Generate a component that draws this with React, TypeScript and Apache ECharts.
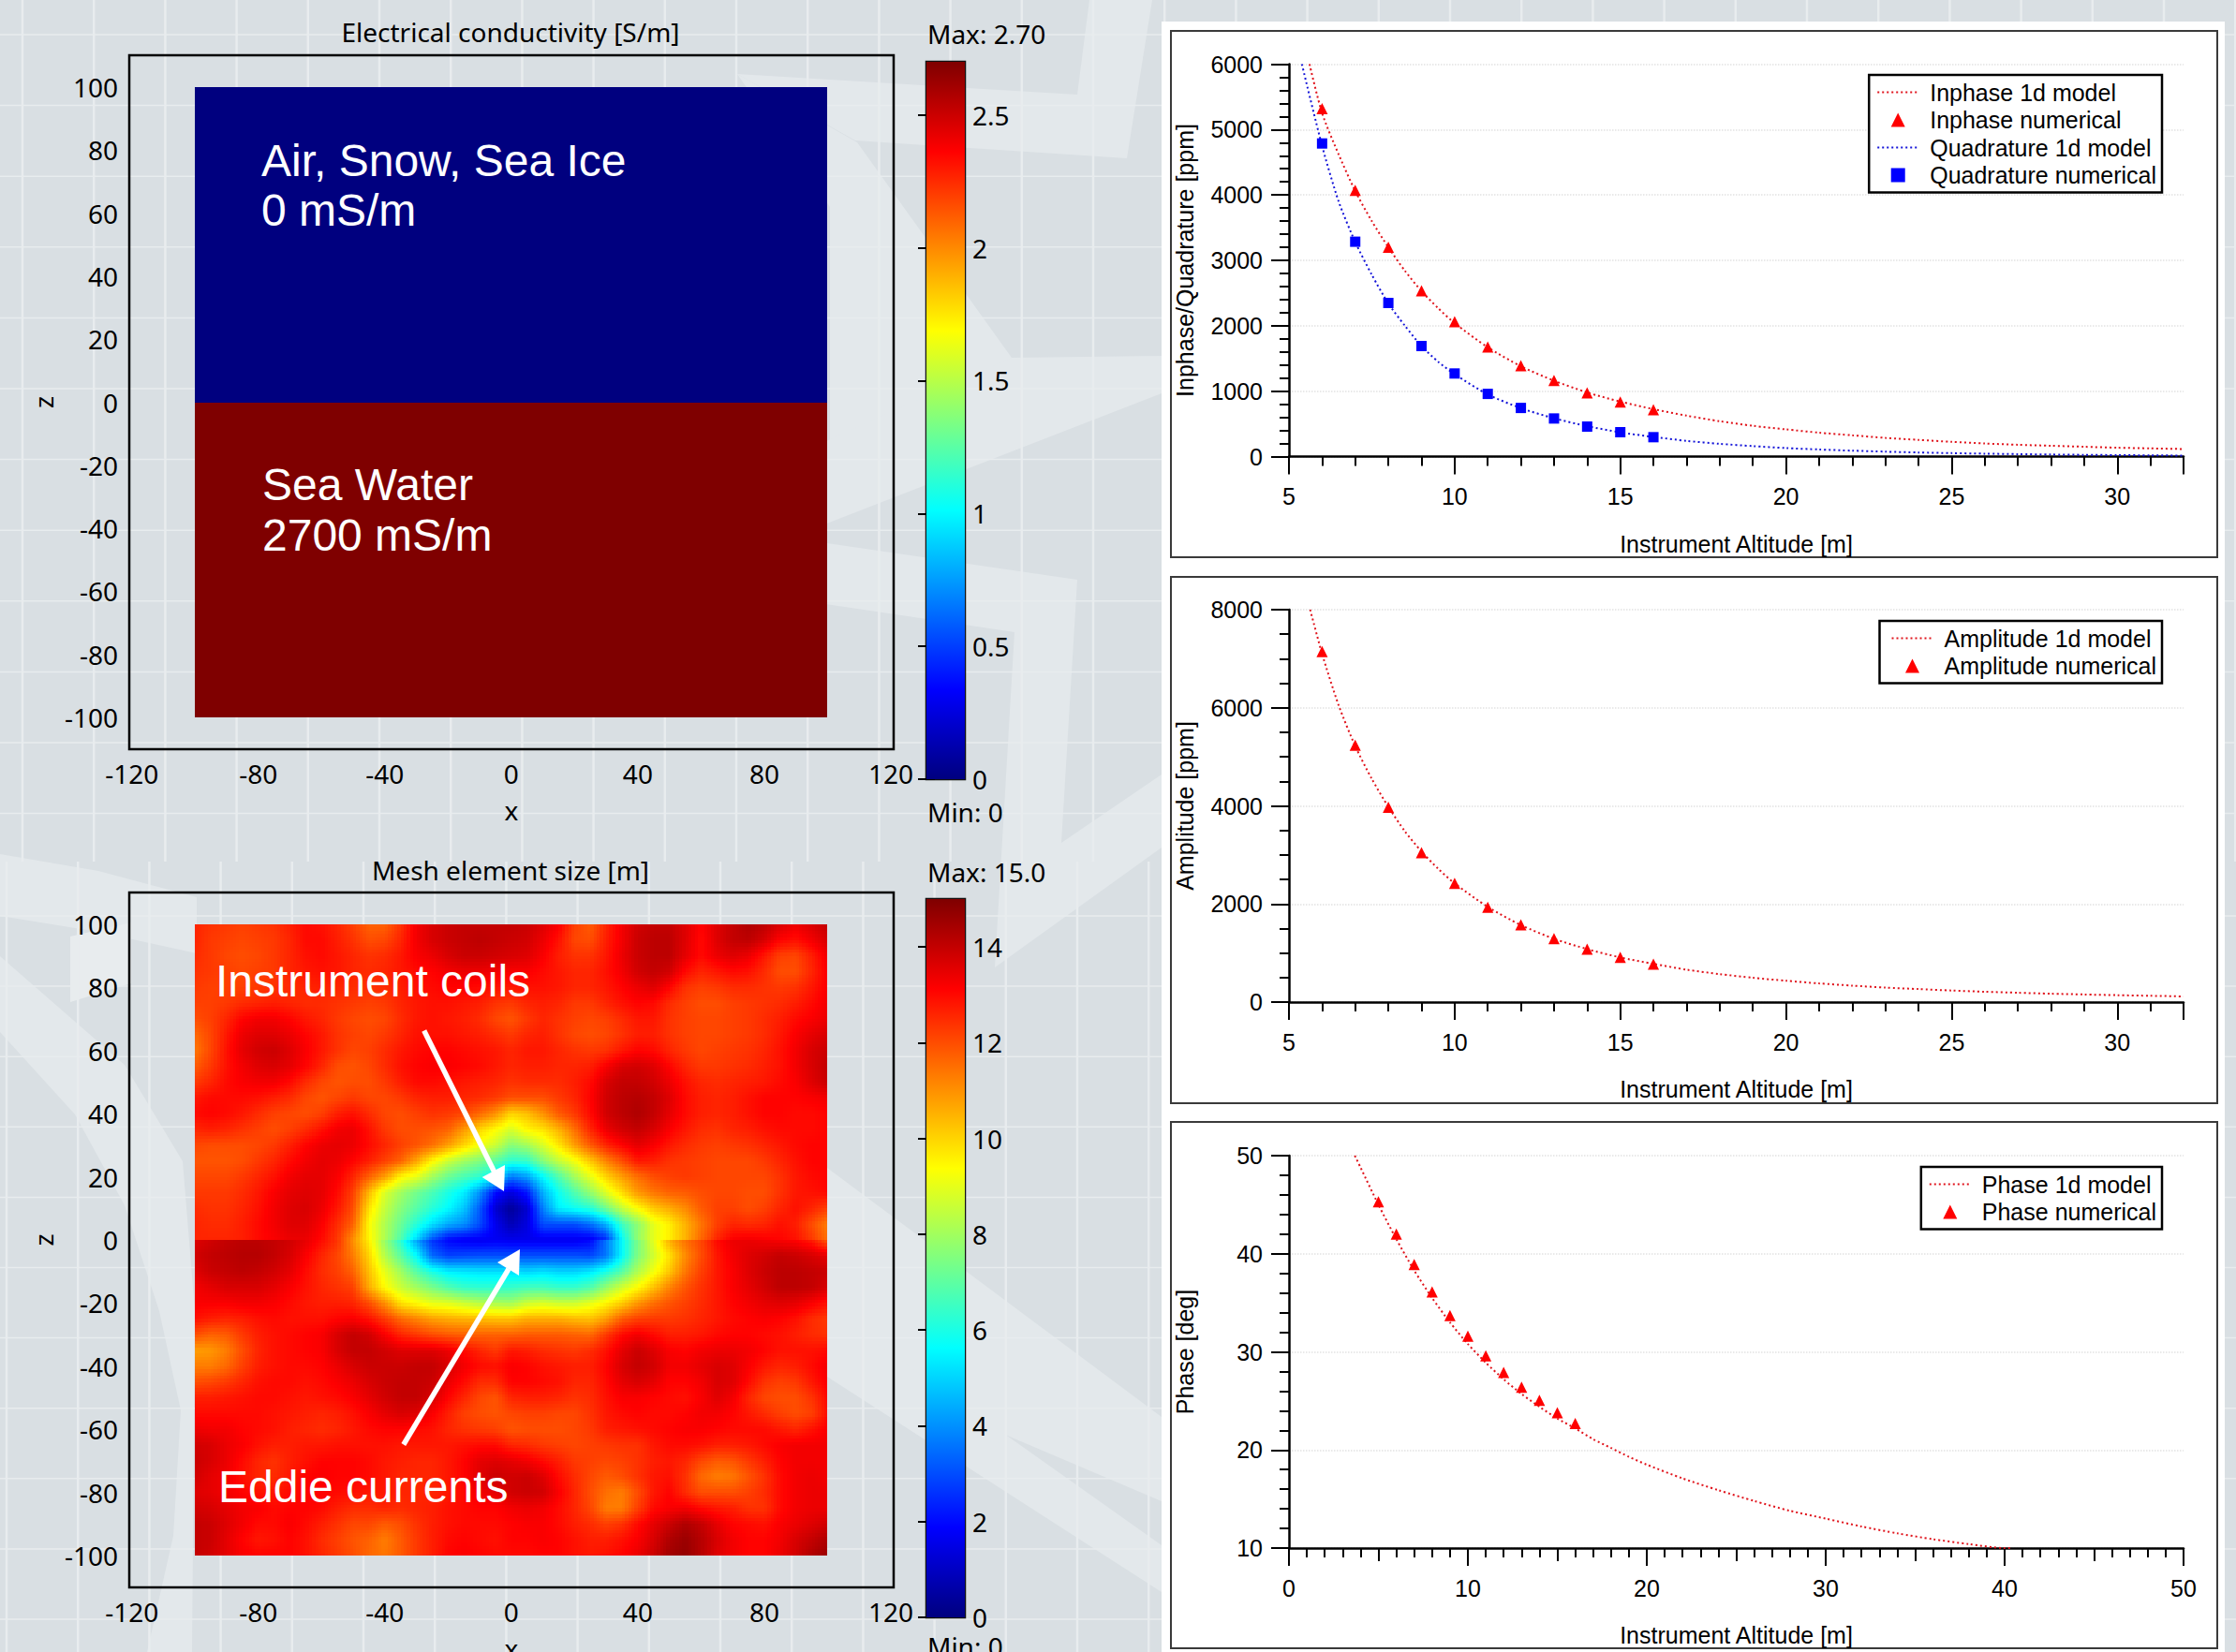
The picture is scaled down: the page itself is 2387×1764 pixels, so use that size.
import React, { useEffect, useRef } from "react";
import * as echarts from "echarts";

const WIDTH = 2387;
const HEIGHT = 1764;

// ---- jet colour scale ----
const jetPositions = [0, 0.125, 0.375, 0.625, 0.875, 1];
const jetColours = [[0, 0, 127], [0, 0, 255], [0, 255, 255], [255, 255, 0], [255, 0, 0], [127, 0, 0]];

// ---- conductivity panel ----
const conductivityMax = 2.7;
const conductivityX = [-100, 100];
const conductivityZ = [100, 0, -100];
const conductivityValues = [0, 2.7];
const conductivityBarTicks = [0, 0.5, 1, 1.5, 2, 2.5];

// ---- mesh panel ----
const meshMax = 15;
const meshBarTicks = [0, 2, 4, 6, 8, 10, 12, 14];
const meshStep = 5;
const meshXStart = -100;
// rows z = 100 ... 0, columns x = -100 ... 100 (every 5 m)
const meshUpper = [
  [12.6,12.4,12.3,12.2,12.3,12.4,12.7,13.0,12.9,12.6,12.2,11.7,11.7,12.4,13.3,13.7,13.9,14.0,14.0,14.0,14.0,13.9,13.6,13.2,12.2,11.8,12.6,13.3,13.8,14.0,14.0,13.6,13.1,13.6,14.0,14.3,14.1,13.7,13.4,13.7,14.0],
  [12.6,12.3,12.2,12.1,12.2,12.3,12.6,13.0,13.0,12.7,12.4,12.0,12.1,12.6,13.3,13.7,13.9,14.0,14.1,14.0,13.9,13.8,13.4,12.9,12.1,12.0,12.7,13.3,13.9,14.1,14.1,13.6,13.0,13.6,14.0,14.1,13.7,13.1,12.9,13.3,13.7],
  [12.5,12.3,12.1,12.0,12.1,12.3,12.6,12.9,13.0,12.8,12.6,12.4,12.5,12.8,13.2,13.4,13.7,13.9,13.9,13.8,13.7,13.6,13.2,12.7,12.4,12.4,12.8,13.4,13.9,14.1,14.1,13.5,13.0,13.4,13.6,13.4,12.8,12.2,12.1,12.7,13.3],
  [12.4,12.3,12.2,12.1,12.2,12.3,12.6,12.8,12.9,12.8,12.6,12.5,12.6,12.8,13.0,13.1,13.3,13.4,13.4,13.3,13.2,13.2,13.0,12.8,12.6,12.6,12.9,13.3,13.8,14.0,13.8,13.0,12.6,12.8,13.0,12.9,12.5,12.0,12.0,12.6,13.2],
  [12.3,12.2,12.2,12.2,12.3,12.4,12.5,12.6,12.7,12.6,12.5,12.4,12.5,12.7,12.9,13.0,13.1,13.1,13.0,12.9,12.8,12.9,12.9,12.8,12.6,12.6,12.8,13.1,13.4,13.6,13.1,12.4,12.2,12.3,12.5,12.5,12.4,12.3,12.4,12.8,13.2],
  [12.2,12.2,12.3,12.5,12.6,12.7,12.6,12.5,12.5,12.4,12.3,12.2,12.3,12.6,12.8,12.9,12.9,12.8,12.7,12.4,12.3,12.6,12.7,12.6,12.3,12.3,12.6,12.9,13.1,13.0,12.5,12.2,12.0,12.0,12.2,12.3,12.4,12.5,12.7,13.0,13.3],
  [12.0,12.2,12.6,13.1,13.3,13.3,13.1,12.8,12.6,12.3,12.1,12.0,12.1,12.5,12.8,12.9,12.8,12.7,12.5,12.1,11.9,12.3,12.6,12.4,12.2,12.1,12.2,12.5,12.8,12.8,12.4,12.2,12.1,12.1,12.2,12.3,12.5,12.7,13.0,13.2,13.4],
  [11.6,12.1,12.8,13.4,13.6,13.6,13.4,13.1,12.8,12.4,12.2,12.1,12.3,12.6,12.9,12.9,12.9,12.8,12.7,12.5,12.3,12.6,12.7,12.4,12.1,12.0,12.1,12.4,12.7,12.7,12.4,12.2,12.1,12.1,12.2,12.3,12.5,12.8,13.2,13.5,13.7],
  [11.4,12.1,12.9,13.5,13.8,13.9,13.6,13.2,12.8,12.4,12.1,12.2,12.5,12.8,13.0,13.1,13.1,13.0,12.9,12.8,12.6,12.8,12.8,12.6,12.4,12.3,12.4,12.8,13.1,13.0,12.6,12.3,12.1,12.2,12.3,12.4,12.6,12.9,13.3,13.7,13.9],
  [11.8,12.3,12.9,13.3,13.6,13.7,13.5,13.1,12.6,12.0,11.9,12.1,12.5,12.9,13.1,13.2,13.2,13.1,13.0,12.8,12.6,12.7,12.7,12.6,12.6,12.7,13.2,13.7,13.8,13.6,13.1,12.6,12.3,12.3,12.4,12.5,12.7,12.9,13.3,13.7,14.0],
  [12.3,12.6,13.0,13.2,13.3,13.3,13.0,12.5,12.1,11.9,12.0,12.0,12.3,12.7,13.0,13.0,12.9,12.8,12.7,12.6,12.4,12.5,12.5,12.5,12.7,13.0,13.7,14.0,14.0,13.8,13.4,12.9,12.6,12.5,12.6,12.7,12.8,13.0,13.2,13.6,13.9],
  [12.8,13.0,13.0,13.0,12.9,12.7,12.5,12.1,11.9,12.1,12.3,12.1,12.1,12.3,12.6,12.7,12.7,12.6,12.5,12.3,12.0,12.0,12.0,12.3,12.6,13.1,13.8,14.1,14.2,14.0,13.6,13.0,12.7,12.6,12.7,12.9,13.1,13.1,13.1,13.2,13.3],
  [13.0,13.1,13.0,12.8,12.5,12.2,12.1,12.0,12.2,12.7,12.9,12.5,12.1,12.0,12.2,12.4,12.3,12.1,11.6,11.0,10.0,10.3,11.0,11.8,12.3,13.0,13.8,14.1,14.3,14.0,13.5,13.0,12.7,12.6,12.7,12.9,13.1,13.1,13.0,13.0,13.1],
  [12.6,12.7,12.6,12.4,12.2,12.0,12.2,12.5,12.9,13.3,13.4,12.9,12.3,12.0,12.0,11.9,11.7,10.9,10.0,9.4,8.8,9.5,9.8,10.5,11.5,12.6,13.4,13.8,14.0,13.7,13.2,12.8,12.5,12.4,12.6,12.7,12.9,13.0,13.0,13.0,13.1],
  [12.1,12.0,12.0,12.0,12.1,12.3,12.7,13.1,13.4,13.5,13.4,13.0,12.6,12.2,11.9,11.5,10.8,10.0,9.2,8.6,7.6,8.0,8.8,9.7,10.8,11.8,12.6,13.1,13.5,13.2,12.8,12.5,12.3,12.2,12.3,12.4,12.6,12.8,13.0,13.1,13.1],
  [11.9,11.9,11.9,12.0,12.3,12.6,13.0,13.3,13.5,13.4,13.1,12.7,12.2,11.7,10.7,9.5,8.6,8.0,7.5,7.0,6.3,6.4,7.6,8.5,9.2,10.2,11.2,12.0,12.8,12.7,12.4,12.3,12.2,12.1,12.1,12.1,12.3,12.6,12.9,13.1,13.1],
  [12.1,12.1,12.1,12.3,12.6,12.9,13.3,13.5,13.5,13.2,12.6,11.7,10.8,9.5,9.0,8.0,7.2,6.7,6.3,5.5,3.6,4.2,5.6,6.8,8.0,9.0,10.0,10.8,11.5,12.0,12.2,12.3,12.2,12.1,12.1,12.1,12.1,12.4,12.8,13.0,13.1],
  [12.3,12.3,12.3,12.5,12.8,13.2,13.5,13.6,13.5,13.0,12.2,10.4,8.8,8.0,7.3,6.7,6.0,5.4,4.0,2.0,1.4,2.2,4.5,5.8,6.8,7.8,8.9,9.9,10.9,11.4,11.7,11.8,12.0,12.1,12.1,12.0,12.0,12.4,12.8,12.9,13.0],
  [12.5,12.4,12.4,12.6,12.9,13.3,13.6,13.7,13.4,12.8,12.0,9.8,8.5,7.6,6.9,6.2,5.6,4.8,3.2,1.2,0.4,1.2,3.8,5.4,5.8,6.2,7.3,8.5,9.4,10.2,10.6,11.1,11.8,12.2,12.2,12.0,12.2,12.6,12.9,12.6,12.2],
  [12.6,12.5,12.5,12.7,13.0,13.3,13.6,13.6,13.2,12.5,11.7,9.4,8.2,7.2,6.2,5.2,4.4,4.0,3.0,1.6,0.8,1.4,3.0,3.0,3.0,3.5,4.5,6.5,7.7,9.0,9.6,10.5,11.4,12.2,12.6,12.5,12.6,12.9,12.7,12.0,11.3],
  [12.6,12.6,12.6,12.7,13.0,13.2,13.4,13.4,13.0,12.3,11.0,9.5,8.2,6.8,5.0,3.0,1.9,1.7,1.7,1.7,1.6,1.6,1.6,1.6,1.6,1.6,2.4,5.6,7.8,9.0,9.6,10.5,11.6,12.6,13.2,13.3,13.2,13.1,12.9,12.3,11.5],
];
// rows z = 0 ... -100, columns x = -100 ... 100 (every 5 m)
const meshLower = [
  [13.6,13.8,14.0,14.1,14.1,14.0,13.8,13.5,13.0,12.4,11.0,9.6,7.8,6.2,4.2,2.6,1.9,1.7,1.6,1.7,1.6,1.6,1.6,1.6,1.6,1.9,3.6,5.6,7.4,9.0,10.6,11.5,12.1,13.0,13.4,13.4,13.3,13.2,13.1,12.7,11.8],
  [13.8,14.0,14.1,14.2,14.2,14.0,13.7,13.2,12.6,12.1,11.3,10.0,8.3,7.0,5.6,3.4,2.8,2.9,3.0,3.0,3.0,3.0,3.0,3.0,3.0,2.9,3.6,5.6,7.5,8.7,9.8,11.1,12.0,12.8,13.3,13.6,13.8,14.0,13.9,13.7,13.5],
  [13.6,13.9,14.0,14.1,14.0,13.8,13.5,13.0,12.5,12.2,11.7,10.3,9.0,8.0,6.9,6.0,5.4,5.3,5.2,5.2,5.2,5.0,5.2,5.0,5.0,5.3,6.0,6.9,8.2,9.2,10.2,11.4,12.2,12.8,13.2,13.6,13.9,14.1,14.1,14.0,13.9],
  [13.3,13.5,13.7,13.7,13.7,13.5,13.2,12.9,12.6,12.4,12.2,10.6,9.4,8.6,8.0,7.4,6.8,6.4,6.3,6.3,6.4,6.6,6.6,6.4,6.4,6.8,7.8,8.7,9.4,10.3,11.2,11.9,12.4,12.8,13.2,13.5,13.8,14.1,14.1,14.0,13.7],
  [13.2,13.2,13.2,13.3,13.3,13.2,13.0,12.8,12.7,12.7,12.6,12.0,11.0,9.8,9.4,9.0,8.9,8.6,8.3,8.1,8.0,8.6,8.8,8.6,8.6,9.0,9.5,10.1,10.9,11.5,11.9,12.2,12.5,12.8,13.1,13.3,13.5,13.6,13.5,13.2,12.9],
  [12.9,12.7,12.6,12.7,12.9,13.0,12.9,12.9,12.9,13.1,13.2,12.9,12.3,11.6,11.2,10.8,10.6,10.5,10.4,10.3,10.3,10.6,10.6,10.6,10.4,10.3,10.8,11.8,12.2,12.3,12.3,12.4,12.6,12.8,13.0,13.1,13.2,13.1,12.9,12.5,12.3],
  [12.0,11.7,11.8,12.3,12.7,12.9,13.0,13.1,13.2,13.7,14.0,13.8,13.2,12.6,12.3,12.0,11.8,11.7,11.7,11.7,11.7,11.8,11.8,11.8,11.7,11.6,12.3,13.0,13.3,13.0,12.7,12.7,12.8,13.0,13.1,13.1,13.0,12.9,12.7,12.5,12.4],
  [10.8,10.9,11.3,12.0,12.6,12.9,13.0,13.1,13.2,13.7,14.0,14.0,13.8,13.6,13.6,13.6,13.4,13.0,12.6,12.3,12.8,12.7,12.5,12.4,12.3,12.5,12.9,13.5,13.9,13.6,13.2,13.1,13.3,13.4,13.4,13.3,13.1,12.9,12.9,12.9,13.0],
  [11.3,11.3,11.6,12.2,12.7,12.9,13.0,13.0,13.1,13.4,13.7,13.9,13.9,13.9,14.0,14.0,13.7,13.3,13.0,12.9,13.2,13.1,12.9,12.8,12.7,12.7,13.1,13.7,14.0,13.8,13.3,13.3,13.5,13.7,13.6,13.2,12.8,12.6,12.7,13.0,13.3],
  [12.0,12.1,12.3,12.6,12.9,13.0,13.0,12.9,13.0,13.2,13.4,13.7,13.9,14.0,14.0,13.9,13.4,13.0,12.5,12.5,13.1,13.1,13.0,12.9,12.6,12.6,13.0,13.5,13.7,13.5,13.1,13.1,13.3,13.7,13.6,13.0,12.4,12.2,12.3,12.8,13.2],
  [12.7,12.7,12.8,12.9,13.0,13.0,12.9,12.8,12.9,13.0,13.2,13.5,13.8,14.0,14.0,13.7,13.1,12.6,12.1,11.9,12.6,12.7,12.7,12.6,12.4,12.5,12.9,13.2,13.2,13.1,13.0,12.9,13.2,13.6,13.3,12.6,12.1,12.0,12.0,12.4,13.0],
  [13.0,13.0,13.0,13.0,13.0,12.9,12.8,12.7,12.6,12.7,12.9,13.2,13.5,13.7,13.6,13.2,12.7,12.2,12.0,11.9,12.1,12.2,12.2,12.1,12.1,12.4,12.8,13.0,13.1,13.0,13.0,13.1,13.3,13.3,13.1,12.8,12.5,12.2,12.0,12.2,12.9],
  [13.4,13.3,13.3,13.1,13.0,12.9,12.7,12.6,12.5,12.6,12.8,13.0,13.1,13.1,13.0,12.9,12.6,12.4,12.3,12.2,11.9,12.0,12.0,12.0,12.1,12.3,12.7,12.8,12.9,13.0,13.1,13.2,13.2,13.1,13.0,13.0,13.0,12.8,12.6,12.9,13.2],
  [13.8,13.7,13.4,13.2,12.9,12.7,12.7,12.8,12.8,12.9,12.9,12.9,12.9,12.8,12.8,12.8,12.8,12.9,13.0,13.0,12.6,12.5,12.3,12.2,12.1,12.2,12.3,12.4,12.4,12.8,13.0,13.0,12.9,12.7,12.7,12.8,13.0,13.2,13.3,13.3,13.3],
  [13.9,13.7,13.4,13.0,12.6,12.4,12.7,12.9,13.1,13.1,13.1,13.0,12.8,12.7,12.6,12.6,12.8,13.1,13.5,13.6,13.5,13.3,13.0,12.7,12.3,12.2,12.1,12.2,12.4,12.7,12.8,12.6,12.1,11.8,11.9,12.3,12.7,13.1,13.3,13.3,13.3],
  [13.8,13.5,13.3,12.9,12.6,12.5,12.8,13.1,13.2,13.1,13.1,13.0,12.8,12.6,12.6,12.6,12.8,13.1,13.6,13.9,13.8,13.9,13.6,13.0,12.5,12.1,11.8,12.0,12.4,12.8,12.9,12.4,11.6,11.3,11.4,11.9,12.4,13.0,13.3,13.4,13.3],
  [13.6,13.5,13.3,13.1,12.9,12.8,13.0,13.1,13.1,13.0,12.9,12.8,12.8,12.6,12.6,12.6,12.8,13.0,13.3,13.5,13.8,13.9,13.8,13.2,12.6,12.0,11.5,11.3,12.0,12.8,13.1,12.5,12.0,12.0,12.0,12.2,12.5,13.0,13.3,13.4,13.4],
  [13.8,13.7,13.5,13.3,13.2,13.0,13.1,13.1,13.0,12.7,12.5,12.5,12.6,12.5,12.6,12.7,12.9,13.0,13.1,13.1,13.3,13.4,13.3,13.0,12.6,12.1,11.3,11.3,12.2,13.0,13.2,13.3,13.0,12.8,12.7,12.4,12.4,13.0,13.3,13.4,13.4],
  [14.0,13.9,13.6,13.3,13.0,13.0,13.2,13.0,12.7,12.4,12.1,12.1,11.8,12.0,12.4,12.7,12.9,13.0,13.0,13.0,13.1,13.2,13.2,13.0,12.7,12.5,12.2,12.4,13.0,13.5,13.9,14.3,14.0,13.5,13.1,13.0,12.9,13.2,13.4,13.6,13.8],
  [14.0,13.9,13.5,13.1,12.8,12.9,13.1,12.9,12.5,12.2,11.9,11.7,11.3,11.8,12.3,12.7,13.0,13.1,13.0,12.9,13.1,13.1,13.2,13.1,12.9,12.7,12.7,12.9,13.2,13.7,14.3,14.6,14.2,13.7,13.3,13.1,13.1,13.3,13.7,14.0,14.3],
  [14.0,13.8,13.5,13.2,13.1,13.1,13.1,12.9,12.6,12.3,12.0,11.6,11.4,11.8,12.3,12.7,13.1,13.2,13.1,13.0,13.0,13.0,13.1,13.1,12.9,12.8,12.9,13.1,13.4,13.9,14.5,14.7,14.2,13.6,13.3,13.1,13.1,13.4,13.8,14.3,14.6],
];

// ---- line panels ----
const inphaseModelX = [5.62,6,6.5,7,7.5,8,8.5,9,9.5,10,11,12,13,14,15,16,17,18,19,20,21,22,23,24,25,26,27,28,29,30,31,32];
const inphaseModelY = [6000,5250,4620,4060,3600,3200,2840,2530,2270,2040,1670,1380,1160,980,840,725,625,540,470,415,365,325,285,255,225,200,180,165,150,135,125,115];
const quadratureModelX = [5.39,6,6.5,7,7.5,8,8.5,9,9.5,10,11,12,13,14,15,16,17,18,19,20,21,22,23,24,25,26,27,28,29,30,31,32];
const quadratureModelY = [6000,4750,3900,3280,2780,2340,2000,1690,1450,1260,950,740,585,465,370,300,240,195,160,130,108,90,75,62,52,44,37,31,26,22,18,15];
const altitudes = [6,7,8,9,10,11,12,13,14,15,16];
const inphaseNumerical = [5320,4070,3200,2535,2062,1675,1390,1163,975,835,716];
const quadratureNumerical = [4787,3285,2348,1690,1270,958,743,582,458,372,296];
const amplitudeModelX = [5.64,6,6.5,7,7.5,8,8.5,9,9.5,10,11,12,13,14,15,16,17,18,19,20,21,22,23,24,25,26,27,28,29,30,31,32];
const amplitudeModelY = [8000,7100,6050,5220,4550,3980,3480,3070,2720,2420,1940,1570,1290,1080,910,780,660,570,495,435,380,335,295,265,235,210,190,170,155,140,128,115];
const amplitudeNumerical = [7145,5235,3970,3045,2420,1932,1573,1293,1077,912,775];
const phaseModelX = [3.68,4,5,6,7,8,9,10,11,12,13,14,15,16,17,18,19,20,22,24,26,28,30,32,34,36,38,40,40.3];
const phaseModelY = [50,48.8,45,41.5,38.3,35.5,33,30.8,28.9,27.2,25.7,24.4,23.2,22.2,21.1,20.2,19.3,18.5,17.1,15.9,14.8,13.8,13,12.2,11.5,10.9,10.4,10,10];
const phaseAltitudes = [5,6,7,8,9,10,11,12,13,14,15,16];
const phaseNumerical = [45.3,42,38.9,36.1,33.7,31.6,29.6,27.9,26.4,25.05,23.8,22.7];
const squareTicks = [-120,-80,-40,0,40,80,120];
const depthTicks = [100,80,60,40,20,0,-20,-40,-60,-80,-100];

const zip = (a: number[], b: number[]) => a.map((v, i) => [v, b[i]]);
const plain = (v: number) => String(v);

function jet(t: number): number[] {
  const v = Math.max(0, Math.min(1, t));
  for (let i = 1; i < jetPositions.length; i++) {
    if (v <= jetPositions[i]) {
      const f = (v - jetPositions[i - 1]) / (jetPositions[i] - jetPositions[i - 1]);
      return jetColours[i].map((c, k) => Math.round(jetColours[i - 1][k] + (c - jetColours[i - 1][k]) * f));
    }
  }
  return jetColours[jetColours.length - 1];
}
const jetCss = (t: number) => `rgb(${jet(t).join(",")})`;

function meshCells(rows: number[][], zTop: number) {
  const cells: number[][] = [];
  for (let j = 0; j + 1 < rows.length; j++) {
    for (let i = 0; i + 1 < rows[j].length; i++) {
      cells.push([meshXStart + i * meshStep, zTop - j * meshStep, rows[j][i], rows[j][i + 1], rows[j + 1][i], rows[j + 1][i + 1]]);
    }
  }
  return cells;
}

const SUB = 5;
function renderMeshCell(_p: any, api: any) {
  const x0 = api.value(0), z0 = api.value(1);
  const a = api.value(2), b = api.value(3), c = api.value(4), d = api.value(5);
  const p0 = api.coord([x0, z0]);
  const p1 = api.coord([x0 + meshStep, z0 - meshStep]);
  const children: any[] = [];
  for (let j = 0; j < SUB; j++) {
    for (let i = 0; i < SUB; i++) {
      const u = (i + 0.5) / SUB, v = (j + 0.5) / SUB;
      const val = (a * (1 - u) + b * u) * (1 - v) + (c * (1 - u) + d * u) * v;
      const xa = Math.round(p0[0] + ((p1[0] - p0[0]) * i) / SUB);
      const xb = Math.round(p0[0] + ((p1[0] - p0[0]) * (i + 1)) / SUB);
      const ya = Math.round(p0[1] + ((p1[1] - p0[1]) * j) / SUB);
      const yb = Math.round(p0[1] + ((p1[1] - p0[1]) * (j + 1)) / SUB);
      children.push({ type: "rect", shape: { x: xa, y: ya, width: xb - xa, height: yb - ya }, style: { fill: jetCss(val / meshMax) }, silent: true });
    }
  }
  return { type: "group", children };
}

function renderBlock(_p: any, api: any) {
  const p0 = api.coord([api.value(0), api.value(1)]);
  const p1 = api.coord([api.value(2), api.value(3)]);
  const x = Math.round(p0[0]), y = Math.round(p0[1]);
  return {
    type: "rect",
    shape: { x, y, width: Math.round(p1[0]) - x, height: Math.round(p1[1]) - y },
    style: { fill: jetCss(api.value(4)) },
  };
}

function renderBar(_p: any, api: any) {
  const p0 = api.coord([0, api.value(1)]);
  const p1 = api.coord([1, api.value(0)]);
  return {
    type: "rect",
    shape: { x: p0[0], y: p0[1], width: p1[0] - p0[0], height: p1[1] - p0[1] },
    style: {
      fill: new echarts.graphic.LinearGradient(0, 1, 0, 0, jetPositions.map((offset) => ({ offset, color: jetCss(offset) }))),
    },
  };
}

const LEFT_FONT = "Noto Sans";
const RIGHT_FONT = "Liberation Sans";
const LEFT_SIZE = 28;
const RIGHT_SIZE = 25;
const BG = "#d9dfe3";
const LIGHT = "#e3e8eb";
const GRIDLINE = "#e8ecee";

function backgroundElements() {
  const els: any[] = [];
  const z = -10;
  els.push({ type: "rect", z, shape: { x: 0, y: 0, width: WIDTH, height: HEIGHT }, style: { fill: BG }, silent: true });
  const poly = (points: number[][], fill = LIGHT, smooth = 0) =>
    els.push({ type: "polygon", z, shape: { points, smooth }, style: { fill }, silent: true });
  // top band and diagonal wedge
  poly([[787,79],[1150,101],[1163,0],[1230,0],[1203,169],[913,150]]);
  poly([[787,79],[915,152],[1080,382],[886,500],[886,221]]);
  poly([[880,472],[1080,382],[1240,380],[1240,420],[880,560]]);
  // middle band
  poly([[780,565],[1150,619],[1133,900],[1240,827],[1240,905],[1062,1033],[1083,675],[780,630]]);
  poly([[720,600],[883,577],[883,640],[720,760]]);
  // lower bands
  poly([[883,1247],[1240,1513],[1240,1603],[883,1451]]);
  poly([[883,1397],[1240,1650],[1240,1700],[883,1470]]);
  // left swooshes
  poly([[0,912],[105,930],[210,958],[210,1018],[105,995],[0,978]]);
  poly([[0,1021],[133,1137],[195,1240],[208,1400],[205,1764],[157,1764],[185,1640],[193,1506],[170,1400],[133,1287],[80,1190],[0,1102]]);
  poly([[75,1000],[140,985],[140,1050],[75,1070]], "#e8ecee");
  // tile grid, two lattices (the reference background is stitched)
  for (let k = 0; k < 32; k++) {
    const xTop = 24 + 76.2 * k, xLow = 7 + 76.2 * k;
    els.push({ type: "line", z, shape: { x1: xTop, y1: 0, x2: xTop, y2: 920 }, style: { stroke: GRIDLINE, lineWidth: 2.5 }, silent: true });
    els.push({ type: "line", z, shape: { x1: xLow, y1: 920, x2: xLow, y2: HEIGHT }, style: { stroke: GRIDLINE, lineWidth: 2.5 }, silent: true });
  }
  for (let k = 0; k < 12; k++) {
    const y = 37 + 75.6 * k;
    els.push({ type: "line", z, shape: { x1: 0, y1: y, x2: WIDTH, y2: y }, style: { stroke: GRIDLINE, lineWidth: 1.5 }, silent: true });
  }
  for (let k = 0; k < 11; k++) {
    const y = 978 + 75.1 * k;
    els.push({ type: "line", z, shape: { x1: 0, y1: y, x2: WIDTH, y2: y }, style: { stroke: GRIDLINE, lineWidth: 1.5 }, silent: true });
  }
  // white sheet + panel frames
  els.push({ type: "rect", z: -5, shape: { x: 1240, y: 23, width: 1135, height: 1741 }, style: { fill: "#ffffff" }, silent: true });
  [[33, 562], [616, 562], [1198, 562]].forEach(([y, h]) =>
    els.push({ type: "rect", z: -4, shape: { x: 1250, y, width: 1117, height: h }, style: { fill: "#ffffff", stroke: "#3a3a3a", lineWidth: 2 }, silent: true })
  );
  return els;
}

function label(text: string, x: number, y: number, fontSize: number, font: string, fill = "#000", align = "left") {
  return { type: "text", z: 100, x, y, style: { text, fontSize, fontFamily: font, fill, align, verticalAlign: "middle" }, silent: true };
}
function annotation(text: string, x: number, baseline: number) {
  return { type: "text", z: 100, x, y: baseline - 17, style: { text, fontSize: 48, fontFamily: RIGHT_FONT, fill: "#fff", align: "left", verticalAlign: "middle" }, silent: true };
}
function arrow(x1: number, y1: number, x2: number, y2: number, head: number[][]) {
  return [
    { type: "line", z: 100, shape: { x1, y1, x2, y2 }, style: { stroke: "#fff", lineWidth: 5.5 }, silent: true },
    { type: "polygon", z: 100, shape: { points: head }, style: { fill: "#fff" }, silent: true },
  ];
}

function squareAxisX(gridIndex: number) {
  return {
    type: "value", gridIndex, min: -120.8, max: 120.9,
    axisLine: { show: false }, axisTick: { show: false }, splitLine: { show: false },
    axisLabel: { customValues: squareTicks, margin: 12, fontSize: LEFT_SIZE, fontFamily: LEFT_FONT, color: "#000", hideOverlap: false },
    name: "x", nameLocation: "middle", nameGap: 65,
    nameTextStyle: { fontSize: LEFT_SIZE, fontFamily: LEFT_FONT, color: "#000", verticalAlign: "middle" },
  };
}
function squareAxisY(gridIndex: number) {
  return {
    type: "value", gridIndex, min: -110.1, max: 110.1,
    axisLine: { show: false, onZero: false }, axisTick: { show: false }, splitLine: { show: false },
    axisLabel: { customValues: depthTicks, margin: 12, fontSize: LEFT_SIZE, fontFamily: LEFT_FONT, color: "#000", hideOverlap: false },
    name: "z", nameLocation: "middle", nameGap: 92,
    nameTextStyle: { fontSize: LEFT_SIZE, fontFamily: LEFT_FONT, color: "#000", verticalAlign: "middle" },
  };
}
function hiddenUnitX(gridIndex: number) {
  return { type: "value", gridIndex, min: 0, max: 1, show: false };
}
function barAxisY(gridIndex: number, max: number, ticks: number[], side: string) {
  const right = side === "right";
  return {
    type: "value", gridIndex, min: 0, max, position: side,
    axisLine: { show: false },
    axisTick: { show: true, inside: true, length: 9, customValues: ticks, lineStyle: { color: "#000", width: 2 } },
    splitLine: { show: false },
    axisLabel: right
      ? { show: true, customValues: ticks, margin: 8, fontSize: LEFT_SIZE, fontFamily: LEFT_FONT, color: "#000", hideOverlap: false, formatter: plain }
      : { show: false },
  };
}
const TICK_STYLE = { color: "#000", width: 2 };
function altitudeAxis(gridIndex: number, min: number, max: number, interval: number, minor: number) {
  return {
    type: "value", gridIndex, min, max, interval,
    axisLine: { show: true, onZero: false, lineStyle: { color: "#000", width: 2.5 } },
    axisTick: { show: true, length: 19, lineStyle: TICK_STYLE },
    minorTick: { show: true, splitNumber: minor, length: 10, lineStyle: TICK_STYLE },
    splitLine: { show: false },
    axisLabel: { margin: 30, showMaxLabel: max === 50, fontSize: RIGHT_SIZE, fontFamily: RIGHT_FONT, color: "#000", hideOverlap: false, formatter: plain },
    name: "Instrument Altitude [m]", nameLocation: "middle", nameGap: 93,
    nameTextStyle: { fontSize: RIGHT_SIZE, fontFamily: RIGHT_FONT, color: "#000", verticalAlign: "middle" },
  };
}
function valueAxis(gridIndex: number, min: number, max: number, interval: number, minor: number, name: string) {
  return {
    type: "value", gridIndex, min, max, interval,
    axisLine: { show: true, onZero: false, lineStyle: { color: "#000", width: 2.5 } },
    axisTick: { show: true, length: 19, lineStyle: TICK_STYLE },
    minorTick: { show: true, splitNumber: minor, length: 10, lineStyle: TICK_STYLE },
    splitLine: { show: true, lineStyle: { color: "#e2e2e2", type: "dotted", width: 1.5 } },
    axisLabel: { margin: 28, fontSize: RIGHT_SIZE, fontFamily: RIGHT_FONT, color: "#000", hideOverlap: false, formatter: plain },
    name, nameLocation: "middle", nameGap: 111,
    nameTextStyle: { fontSize: RIGHT_SIZE, fontFamily: RIGHT_FONT, color: "#000", verticalAlign: "middle" },
  };
}
function modelSeries(name: string, xAxisIndex: number, yAxisIndex: number, data: number[][], color: string) {
  return {
    type: "line", name, xAxisIndex, yAxisIndex, data, smooth: 0.25, symbol: "none",
    lineStyle: { color, width: 2, type: [2, 3] }, itemStyle: { color }, z: 3,
  };
}
function pointSeries(name: string, xAxisIndex: number, yAxisIndex: number, data: number[][], color: string, symbol: string, symbolSize: number) {
  return {
    type: "scatter", name, xAxisIndex, yAxisIndex, data, symbol, symbolSize,
    itemStyle: { color, opacity: 1 }, z: 4,
  };
}
const TRIANGLE_ICON = "path://M50 0L100 100L0 100Z";
const SQUARE_ICON = "path://M0 0H100V100H0Z";
const lineEntry = (name: string) => ({ name, itemStyle: { color: "transparent", borderColor: "transparent", borderWidth: 0 } });
const markEntry = (name: string, icon: string) => ({ name, icon });
function legendBox(data: any[], top: number, leftPad = 8) {
  return {
    data, top, right: 79, orient: "vertical", align: "left", selectedMode: false, itemGap: 4.5,
    itemWidth: 44, itemHeight: 15, padding: [6, 6, 6, leftPad],
    backgroundColor: "#fff", borderColor: "#000", borderWidth: 2.5,
    textStyle: { fontSize: RIGHT_SIZE, fontFamily: RIGHT_FONT, color: "#000", padding: [0, 0, 0, 7] },
  };
}
const NO_BOUNDS = { outerBoundsMode: "none" };

export default function App() {
  const ref = useRef<HTMLDivElement>(null);
  useEffect(() => {
    const chart = echarts.init(ref.current!, undefined, { renderer: "svg", width: WIDTH, height: HEIGHT });
    const blocks = [
      [conductivityX[0], conductivityZ[0], conductivityX[1], conductivityZ[1], conductivityValues[0] / conductivityMax],
      [conductivityX[0], conductivityZ[1], conductivityX[1], conductivityZ[2], conductivityValues[1] / conductivityMax],
    ];
    chart.setOption({
      animation: false,
      graphic: {
        elements: [
          ...backgroundElements(),
          label("Electrical conductivity [S/m]", 545, 34, LEFT_SIZE, LEFT_FONT, "#000", "center"),
          label("Max: 2.70", 990, 36, LEFT_SIZE, LEFT_FONT),
          label("Min: 0", 990, 867, LEFT_SIZE, LEFT_FONT),
          label("Mesh element size [m]", 545, 929, LEFT_SIZE, LEFT_FONT, "#000", "center"),
          label("Max: 15.0", 990, 931, LEFT_SIZE, LEFT_FONT),
          label("Min: 0", 990, 1758, LEFT_SIZE, LEFT_FONT),
          annotation("Air, Snow, Sea Ice", 279, 188),
          annotation("0 mS/m", 279, 241),
          annotation("Sea Water", 280, 534),
          annotation("2700 mS/m", 280, 588),
          annotation("Instrument coils", 230, 1064),
          annotation("Eddie currents", 233, 1604),
          ...arrow(452.7, 1100.5, 528, 1252, [[538, 1272], [514.7, 1257], [539, 1244]]),
          ...arrow(430.8, 1542.5, 543, 1355, [[555, 1334], [531, 1348], [554, 1362]]),
        ],
      },
      grid: [
        { ...NO_BOUNDS, left: 138, top: 59, width: 816, height: 741, show: true, borderColor: "#000", borderWidth: 2.5 },
        { ...NO_BOUNDS, left: 989, top: 66, width: 41, height: 766, show: true, borderColor: "#111", borderWidth: 2.5 },
        { ...NO_BOUNDS, left: 138, top: 953, width: 816, height: 742, show: true, borderColor: "#000", borderWidth: 2.5 },
        { ...NO_BOUNDS, left: 989, top: 960, width: 41, height: 767, show: true, borderColor: "#111", borderWidth: 2.5 },
        { ...NO_BOUNDS, left: 1376, top: 68.5, width: 955, height: 419 },
        { ...NO_BOUNDS, left: 1376, top: 651, width: 955, height: 419 },
        { ...NO_BOUNDS, left: 1376, top: 1234, width: 955, height: 419 },
      ],
      xAxis: [
        squareAxisX(0),
        hiddenUnitX(1),
        squareAxisX(2),
        hiddenUnitX(3),
        altitudeAxis(4, 5, 32, 5, 5),
        altitudeAxis(5, 5, 32, 5, 5),
        altitudeAxis(6, 0, 50, 10, 10),
        {
          type: "value", gridIndex: 6, min: 0, max: 50, interval: 5, position: "bottom",
          axisLine: { show: false, onZero: false }, axisTick: { show: true, length: 14, lineStyle: TICK_STYLE },
          axisLabel: { show: false }, splitLine: { show: false },
        },
      ],
      yAxis: [
        squareAxisY(0),
        barAxisY(1, conductivityMax, conductivityBarTicks, "right"),
        barAxisY(1, conductivityMax, conductivityBarTicks, "left"),
        squareAxisY(2),
        barAxisY(3, meshMax, meshBarTicks, "right"),
        barAxisY(3, meshMax, meshBarTicks, "left"),
        valueAxis(4, 0, 6000, 1000, 5, "Inphase/Quadrature [ppm]"),
        valueAxis(5, 0, 8000, 2000, 4, "Amplitude [ppm]"),
        valueAxis(6, 10, 50, 10, 5, "Phase [deg]"),
      ],
      legend: [
        legendBox([lineEntry("Inphase 1d model"), markEntry("Inphase numerical", TRIANGLE_ICON), lineEntry("Quadrature 1d model"), markEntry("Quadrature numerical", SQUARE_ICON)], 80),
        legendBox([lineEntry("Amplitude 1d model"), markEntry("Amplitude numerical", TRIANGLE_ICON)], 663, 12),
        legendBox([lineEntry("Phase 1d model"), markEntry("Phase numerical", TRIANGLE_ICON)], 1246),
      ],
      series: [
        { type: "custom", name: "conductivity", xAxisIndex: 0, yAxisIndex: 0, data: blocks, renderItem: renderBlock, silent: true, z: 2 },
        { type: "custom", name: "conductivity scale", xAxisIndex: 1, yAxisIndex: 1, data: [[0, conductivityMax]], renderItem: renderBar, silent: true, z: 1 },
        { type: "custom", name: "mesh above z=0", xAxisIndex: 2, yAxisIndex: 3, data: meshCells(meshUpper, 100), renderItem: renderMeshCell, silent: true, progressive: 0, z: 2 },
        { type: "custom", name: "mesh below z=0", xAxisIndex: 2, yAxisIndex: 3, data: meshCells(meshLower, 0), renderItem: renderMeshCell, silent: true, progressive: 0, z: 2 },
        { type: "custom", name: "mesh scale", xAxisIndex: 3, yAxisIndex: 4, data: [[0, meshMax]], renderItem: renderBar, silent: true, z: 1 },
        modelSeries("Inphase 1d model", 4, 6, zip(inphaseModelX, inphaseModelY), "#e0141c"),
        pointSeries("Inphase numerical", 4, 6, zip(altitudes, inphaseNumerical), "#ff0000", "triangle", 12),
        modelSeries("Quadrature 1d model", 4, 6, zip(quadratureModelX, quadratureModelY), "#1414d8"),
        pointSeries("Quadrature numerical", 4, 6, zip(altitudes, quadratureNumerical), "#0000ff", "rect", 11),
        modelSeries("Amplitude 1d model", 5, 7, zip(amplitudeModelX, amplitudeModelY), "#e0141c"),
        pointSeries("Amplitude numerical", 5, 7, zip(altitudes, amplitudeNumerical), "#ff0000", "triangle", 12),
        modelSeries("Phase 1d model", 6, 8, zip(phaseModelX, phaseModelY), "#e0141c"),
        pointSeries("Phase numerical", 6, 8, zip(phaseAltitudes, phaseNumerical), "#ff0000", "triangle", 12),
      ],
    });
    return () => chart.dispose();
  }, []);
  return <div ref={ref} style={{ position: "absolute", left: 0, top: 0, width: WIDTH, height: HEIGHT }} />;
}
